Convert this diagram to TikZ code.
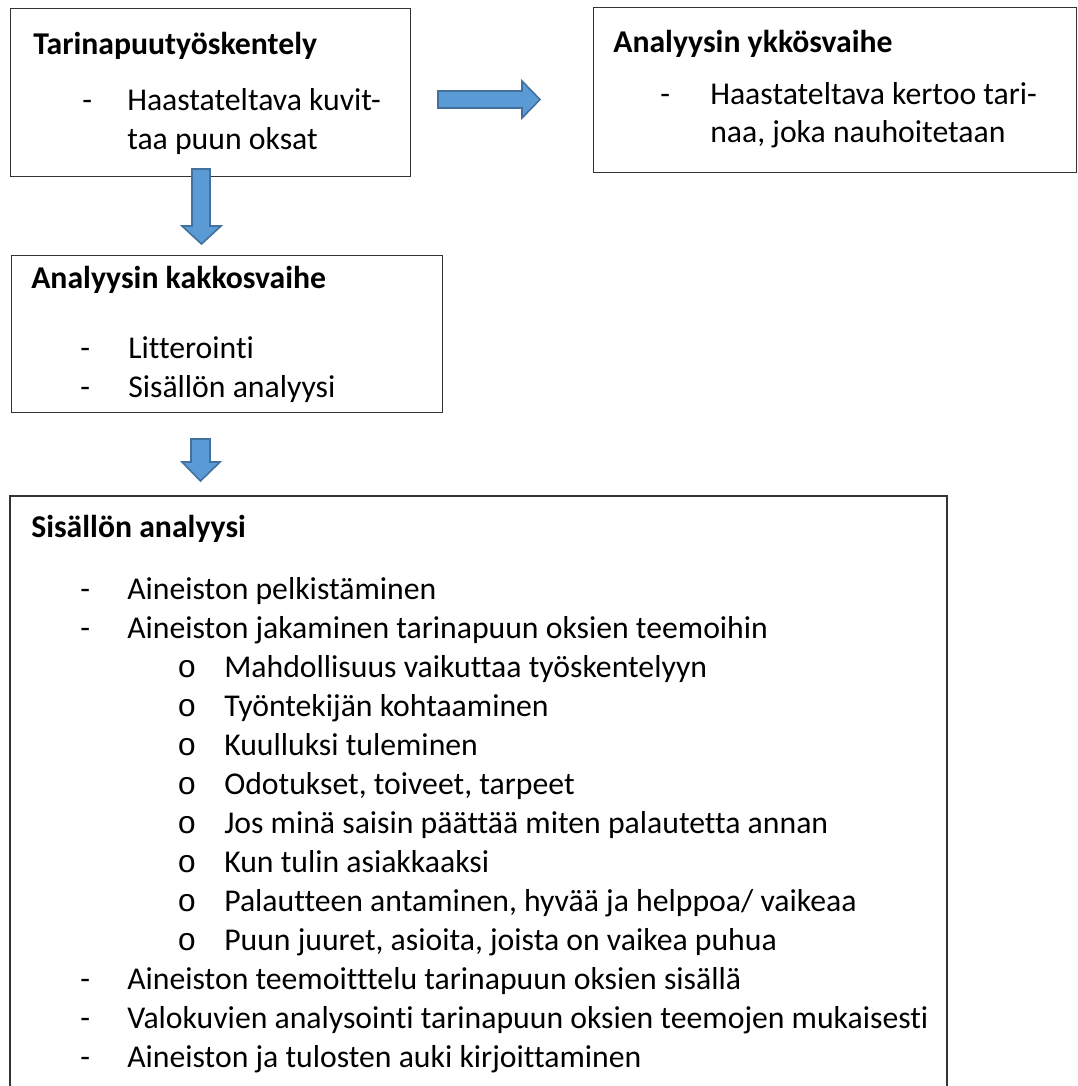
\documentclass[tikz,border=0pt]{standalone}
\usepackage{fontspec}
\setmainfont{Carlito}[Ligatures=NoCommon]
\newfontfamily\bulletfont{Liberation Mono}
\definecolor{arrowfill}{HTML}{5B9BD5}
\definecolor{arrowline}{HTML}{41719C}
\newcommand{\subbullet}{{\bulletfont o}}
\begin{document}
\begin{tikzpicture}[x=0.75pt,y=-0.75pt,
    box/.style={draw=black!80,line width=1pt,anchor=north west,inner sep=0pt},
    txt/.style={anchor=base west,inner sep=0pt,font=\fontsize{23.8}{28}\selectfont},
    head/.style={txt,font=\fontsize{23.8}{28}\selectfont\bfseries},
    blockarrow/.style={fill=arrowfill,draw=arrowline,line width=1.2pt,line join=miter}]
        \useasboundingbox (0,0) rectangle (1078,1086);
        \node[box,minimum width=400*0.75pt,minimum height=168*0.75pt] (tarina) at (10,8) {};
        \node[box,minimum width=483*0.75pt,minimum height=165*0.75pt] (ykkonen) at (593,7) {};
        \node[box,minimum width=431*0.75pt,minimum height=157*0.75pt] (kakkonen) at (11,255) {};
        \draw[draw=black!80,line width=1pt] (10,1090) |- (947,496) -- (947,1090);
        \coordinate (sisalto) at (10,496);
        % block arrows
        \draw[blockarrow] (438,91) -- (522,91) -- (522,81) -- (540,99.5) -- (522,118) -- (522,108) -- (438,108) -- cycle;
        \draw[blockarrow] (192,169) -- (210,169) -- (210,226) -- (221,226) -- (201.5,244) -- (182,226) -- (192,226) -- cycle;
        \draw[blockarrow] (191,439) -- (210,439) -- (210,462) -- (220,462) -- (200.5,481) -- (182,462) -- (191,462) -- cycle;
        % Tarinapuutyöskentely
        \node[head] (t0) at (33,54) {Tarinapuutyöskentely};
        \node[txt] (t1d) at (82,110) {-};
        \node[txt] (t1) at (127,110) {Haastateltava kuvit-};
        \node[txt] (t2) at (127,149) {taa puun oksat};
        % ykkösvaihe
        \node[head] (y0) at (613,52) {Analyysin ykkösvaihe};
        \node[txt] (y1d) at (660,104) {-};
        \node[txt] (y1) at (710,104) {Haastateltava kertoo tari-};
        \node[txt] (y2) at (710,142) {naa, joka nauhoitetaan};
        % kakkosvaihe
        \node[head] (k0) at (31,288) {Analyysin kakkosvaihe};
        \node[txt] (k1d) at (80,358) {-};
        \node[txt] (k1) at (128,358) {Litterointi};
        \node[txt] (k2d) at (80,397) {-};
        \node[txt] (k2) at (128,397) {Sisällön analyysi};
        % Sisällön analyysi
        \node[head] (s0) at (31,537) {Sisällön analyysi};
        \node[txt] (s1d) at (80,599) {-};
        \node[txt] (s1) at (127,599) {Aineiston pelkistäminen};
        \node[txt] (s2d) at (80,638) {-};
        \node[txt] (s2) at (127,638) {Aineiston jakaminen tarinapuun oksien teemoihin};
        \node[txt] (s3o) at (177,677) {\subbullet};
        \node[txt] (s3) at (224,677) {Mahdollisuus vaikuttaa työskentelyyn};
        \node[txt] (s4o) at (177,716) {\subbullet};
        \node[txt] (s4) at (224,716) {Työntekijän kohtaaminen};
        \node[txt] (s5o) at (177,755) {\subbullet};
        \node[txt] (s5) at (224,755) {Kuulluksi tuleminen};
        \node[txt] (s6o) at (177,794) {\subbullet};
        \node[txt] (s6) at (224,794) {Odotukset, toiveet, tarpeet};
        \node[txt] (s7o) at (177,833) {\subbullet};
        \node[txt] (s7) at (224,833) {Jos minä saisin päättää miten palautetta annan};
        \node[txt] (s8o) at (177,872) {\subbullet};
        \node[txt] (s8) at (224,872) {Kun tulin asiakkaaksi};
        \node[txt] (s9o) at (177,911) {\subbullet};
        \node[txt] (s9) at (224,911) {Palautteen antaminen, hyvää ja helppoa/ vaikeaa};
        \node[txt] (s10o) at (177,950) {\subbullet};
        \node[txt] (s10) at (224,950) {Puun juuret, asioita, joista on vaikea puhua};
        \node[txt] (s11d) at (80,989) {-};
        \node[txt] (s11) at (127,989) {Aineiston teemoitttelu tarinapuun oksien sisällä};
        \node[txt] (s12d) at (80,1028) {-};
        \node[txt] (s12) at (127,1028) {Valokuvien analysointi tarinapuun oksien teemojen mukaisesti};
        \node[txt] (s13d) at (80,1067) {-};
        \node[txt] (s13) at (127,1067) {Aineiston ja tulosten auki kirjoittaminen};
      \end{tikzpicture}
\end{document}
